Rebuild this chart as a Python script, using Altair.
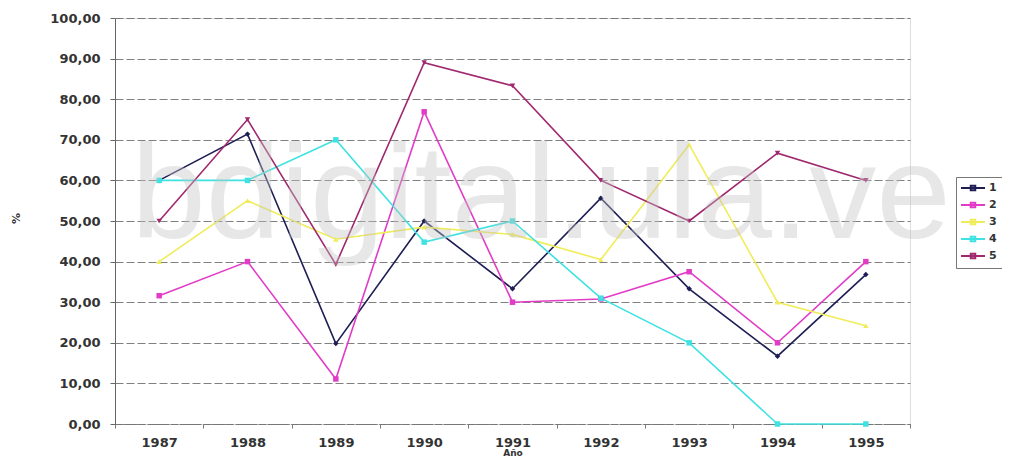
import altair as alt
import pandas as pd

years = ["1987", "1988", "1989", "1990", "1991", "1992", "1993", "1994", "1995"]
s1 = [60.0, 71.4, 19.8, 50.0, 33.3, 55.6, 33.3, 16.7, 36.8]
s2 = [31.6, 40.0, 11.1, 76.9, 30.0, 30.8, 37.5, 20.0, 40.0]
s3 = [40.0, 55.0, 45.5, 48.5, 46.7, 40.5, 68.8, 30.0, 24.2]
s4 = [60.0, 60.0, 70.0, 44.8, 50.0, 31.0, 20.0, 0.0, 0.0]
s5 = [50.0, 75.0, 39.3, 89.0, 83.3, 60.0, 50.0, 66.7, 60.0]
series_names = ["1", "2", "3", "4", "5"]
series_vals = [s1, s2, s3, s4, s5]
colors = ["#1e1e55", "#e23cc6", "#f0ec5a", "#3fe2e2", "#a0286e"]
shapes = ["diamond", "square", "triangle-up", "square", "triangle-down"]
watermark = "bdigital.ula.ve"

rows = []
for name, vals in zip(series_names, series_vals):
    for yr, v in zip(years, vals):
        rows.append({"Año": yr, "val": v, "serie": name, "marca": name})
df = pd.DataFrame(rows)

FONT = "DejaVu Sans"

x = alt.X("Año:N", sort=years,
          scale=alt.Scale(type="band", paddingInner=0, paddingOuter=0),
          axis=alt.Axis(title="Año", labelAngle=0, tickBand="extent", grid=False,
                        labelFont=FONT, labelFontSize=13, labelFontWeight="bold",
                        labelColor="#333333", labelPadding=8,
                        titleFont=FONT, titleFontSize=9, titleFontWeight="bold",
                        titleColor="#333333", titleY=28, titleBaseline="middle",
                        domainColor="#777777", domainDash=[6, 2], tickColor="#777777",
                        tickSize=4))
y = alt.Y("val:Q", scale=alt.Scale(domain=[0, 100], nice=False),
          axis=alt.Axis(title="%", values=list(range(0, 101, 10)),
                        labelExpr="replace(format(datum.value, '.2f'), '.', ',')",
                        labelFont=FONT, labelFontSize=13, labelFontWeight="bold",
                        labelColor="#333333", labelPadding=10, tickSize=5,
                        tickColor="#666666", domainColor="#666666",
                        grid=True, gridColor="#555555", gridDash=[8, 3],
                        gridOpacity=0.75, gridWidth=1,
                        titleFont=FONT, titleFontSize=11, titleFontWeight="bold",
                        titleColor="#333333", titleX=-99, titleY=200,
                        titleAngle=-90, titleBaseline="middle", titleAlign="center"))

color = alt.Color("serie:N", sort=series_names,
                  scale=alt.Scale(domain=series_names, range=colors),
                  legend=alt.Legend(title=None, orient="none", legendX=841, legendY=159,
                                    strokeColor="#777777", padding=5, rowPadding=3,
                                    symbolType="M-2.4,0H2.4M-0.45,-0.45H0.45V0.45H-0.45Z",
                                    symbolStrokeWidth=2, symbolSize=100,
                                    symbolOffset=6, labelOffset=10,
                                    labelFont=FONT, labelFontSize=11,
                                    labelFontWeight="bold", labelColor="#333333"))

lines = alt.Chart(df).mark_line(strokeWidth=1.6).encode(x=x, y=y, color=color)
points = alt.Chart(df).mark_point(filled=True, size=30, opacity=1).encode(
    x=x, y=y,
    fill=alt.Fill("marca:N", sort=series_names,
                  scale=alt.Scale(domain=series_names, range=colors), legend=None),
    shape=alt.Shape("marca:N", scale=alt.Scale(domain=series_names, range=shapes),
                    legend=None))

wm = alt.Chart(pd.DataFrame({"t": [watermark]})).mark_text(
    font="Liberation Sans", fontSize=134, color="#c4c4c4", opacity=0.4,
    align="center", baseline="alphabetic").encode(
    text="t:N", x=alt.value(426), y=alt.value(220))

chart = alt.layer(lines, points, wm).resolve_scale(
    color="independent", shape="independent"
).properties(
    width=795, height=406,
    padding={"left": 107, "top": 10, "right": 92, "bottom": 32},
    autosize=alt.AutoSizeParams(type="none"),
).configure_view(stroke=None).configure(background="white")

chart.save("out.html", embed_options={"renderer": "svg", "actions": False})
